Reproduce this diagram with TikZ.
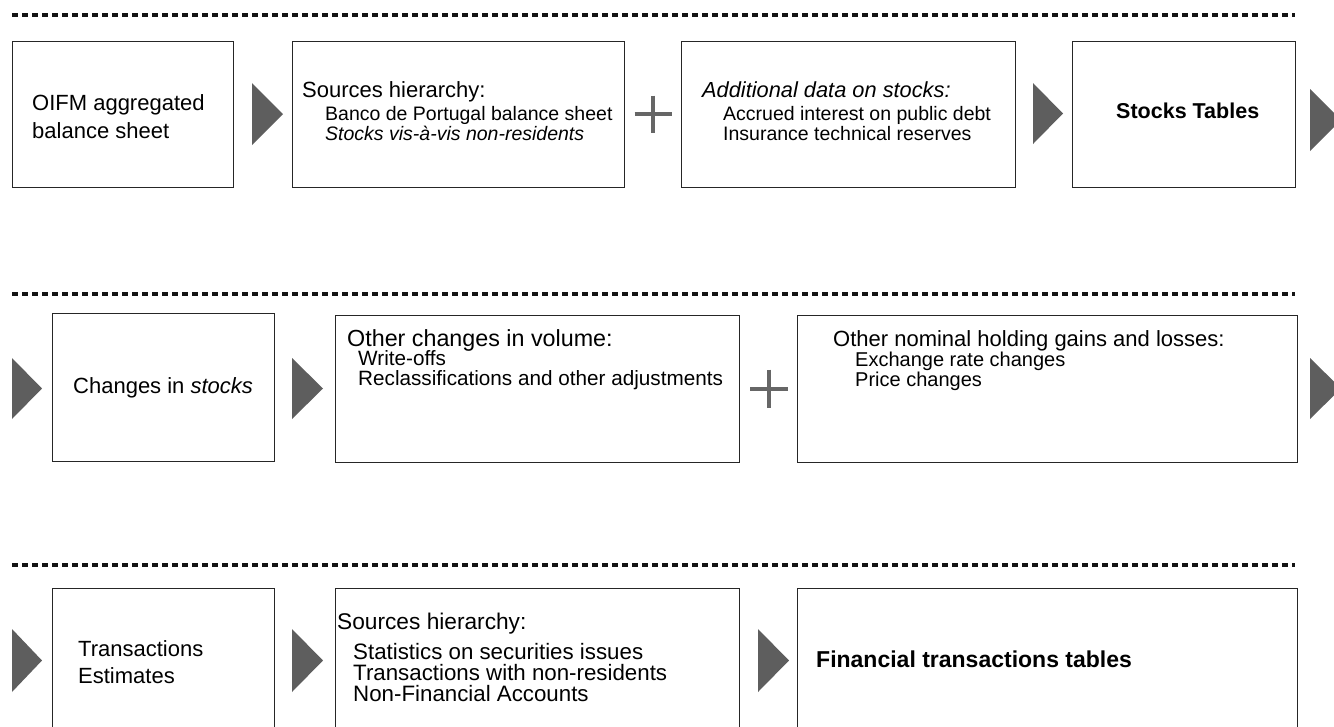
\documentclass[tikz,border=0pt]{standalone}
\usepackage{fontspec}
\setmainfont{Liberation Sans}
\begin{document}
\begin{tikzpicture}[x=1pt,y=-1pt,
  box/.style={draw=black!85, line width=1.2pt, inner sep=0pt, anchor=north west},
  sep/.style={draw=black!92, line width=4pt, dash pattern=on 6pt off 4pt},
  tri/.style={fill=black!63},
  plus/.style={draw=black!60, line width=4pt},
  txt/.style={anchor=base west, inner sep=0pt},
  head/.style={txt, font=\fontsize{22}{26}\selectfont},
  bighead/.style={txt, font=\fontsize{22.5}{26}\selectfont\bfseries},
  subA/.style={txt, font=\fontsize{19.5}{23}\selectfont},
  subB/.style={txt, font=\fontsize{20}{23}\selectfont},
  subC/.style={txt, font=\fontsize{22.3}{25}\selectfont}
]
\useasboundingbox (0,0) rectangle (1334,726);

% dotted separators between the three stages
\coordinate (s1l) at (12,15);  \coordinate (s1r) at (1295,15);
\coordinate (s2l) at (12,294); \coordinate (s2r) at (1295,294);
\coordinate (s3l) at (12,565); \coordinate (s3r) at (1295,565);
\draw[sep] (s1l) -- (s1r);
\draw[sep] (s2l) -- (s2r);
\draw[sep] (s3l) -- (s3r);

% ---- stage 1: stocks
\node[box, minimum width=221pt, minimum height=146pt] (r1a) at (12,41) {};
\node[box, minimum width=332pt, minimum height=146pt] (r1b) at (292,41) {};
\node[box, minimum width=334pt, minimum height=146pt] (r1c) at (681,41) {};
\node[box, minimum width=223pt, minimum height=146pt] (r1d) at (1072,41) {};

\node[head] (t1a1) at (32,110) {OIFM aggregated};
\node[head] (t1a2) at (32,138) {balance sheet};
\node[head] (t1b1) at (302,97) {Sources hierarchy:};
\node[subA] (t1b2) at (325,120) {Banco de Portugal balance sheet};
\node[subA] (t1b3) at (325,140) {\itshape Stocks vis-à-vis non-residents};
\node[head, font=\fontsize{21.8}{26}\selectfont\itshape] (t1c1) at (702,97) {Additional data on stocks:};
\node[subA] (t1c2) at (723,120) {Accrued interest on public debt};
\node[subA] (t1c3) at (723,140) {Insurance technical reserves};
\node[bighead, font=\fontsize{21.5}{26}\selectfont\bfseries] (t1d1) at (1116,118) {Stocks Tables};

\fill[tri] (252,83) -- (283,114) -- (252,145) -- cycle;
\draw[plus] (634.5,114) -- (671.5,114) (653,95.5) -- (653,132.5);
\fill[tri] (1033,83) -- (1063,113.5) -- (1033,144) -- cycle;
\fill[tri] (1310,89) -- (1341,120) -- (1310,151) -- cycle;

% ---- stage 2: changes in stocks
\node[box, minimum width=222pt, minimum height=148pt] (r2a) at (52,313) {};
\node[box, minimum width=404pt, minimum height=147pt] (r2b) at (335,315) {};
\node[box, minimum width=500pt, minimum height=147pt] (r2c) at (797,315) {};

\node[head] (t2a1) at (73,393) {Changes in \itshape stocks};
\node[head, font=\fontsize{23.3}{27}\selectfont] (t2b1) at (347,346) {Other changes in volume:};
\node[subB, font=\fontsize{20.7}{24}\selectfont] (t2b2) at (358,365) {Write-offs};
\node[subB, font=\fontsize{20.7}{24}\selectfont] (t2b3) at (358,385) {Reclassifications and other adjustments};
\node[head] (t2c1) at (833,346) {Other nominal holding gains and losses:};
\node[subB] (t2c2) at (855,366) {Exchange rate changes};
\node[subB] (t2c3) at (855,386) {Price changes};

\fill[tri] (12,358) -- (42,388.5) -- (12,419) -- cycle;
\fill[tri] (292,358) -- (323,388.5) -- (292,419) -- cycle;
\draw[plus] (750,388.5) -- (788,388.5) (769,369.5) -- (769,407.5);
\fill[tri] (1310,358) -- (1341,388.5) -- (1310,419) -- cycle;

% ---- stage 3: transactions
\node[box, minimum width=222pt, minimum height=160pt] (r3a) at (52,588) {};
\node[box, minimum width=404pt, minimum height=160pt] (r3b) at (335,588) {};
\node[box, minimum width=500pt, minimum height=160pt] (r3c) at (797,588) {};

\node[head] (t3a1) at (78,656) {Transactions};
\node[head] (t3a2) at (78,683) {Estimates};
\node[head, font=\fontsize{22.7}{26}\selectfont] (t3b1) at (337,629) {Sources hierarchy:};
\node[subC] (t3b2) at (353,659) {Statistics on securities issues};
\node[subC] (t3b3) at (353,680) {Transactions with non-residents};
\node[subC] (t3b4) at (353,701) {Non-Financial Accounts};
\node[bighead, font=\fontsize{23}{27}\selectfont\bfseries] (t3c1) at (816,667) {Financial transactions tables};

\fill[tri] (12,629) -- (42,660.5) -- (12,692) -- cycle;
\fill[tri] (292,629) -- (323,660.5) -- (292,692) -- cycle;
\fill[tri] (758,629) -- (789,660.5) -- (758,692) -- cycle;
\end{tikzpicture}
\end{document}
